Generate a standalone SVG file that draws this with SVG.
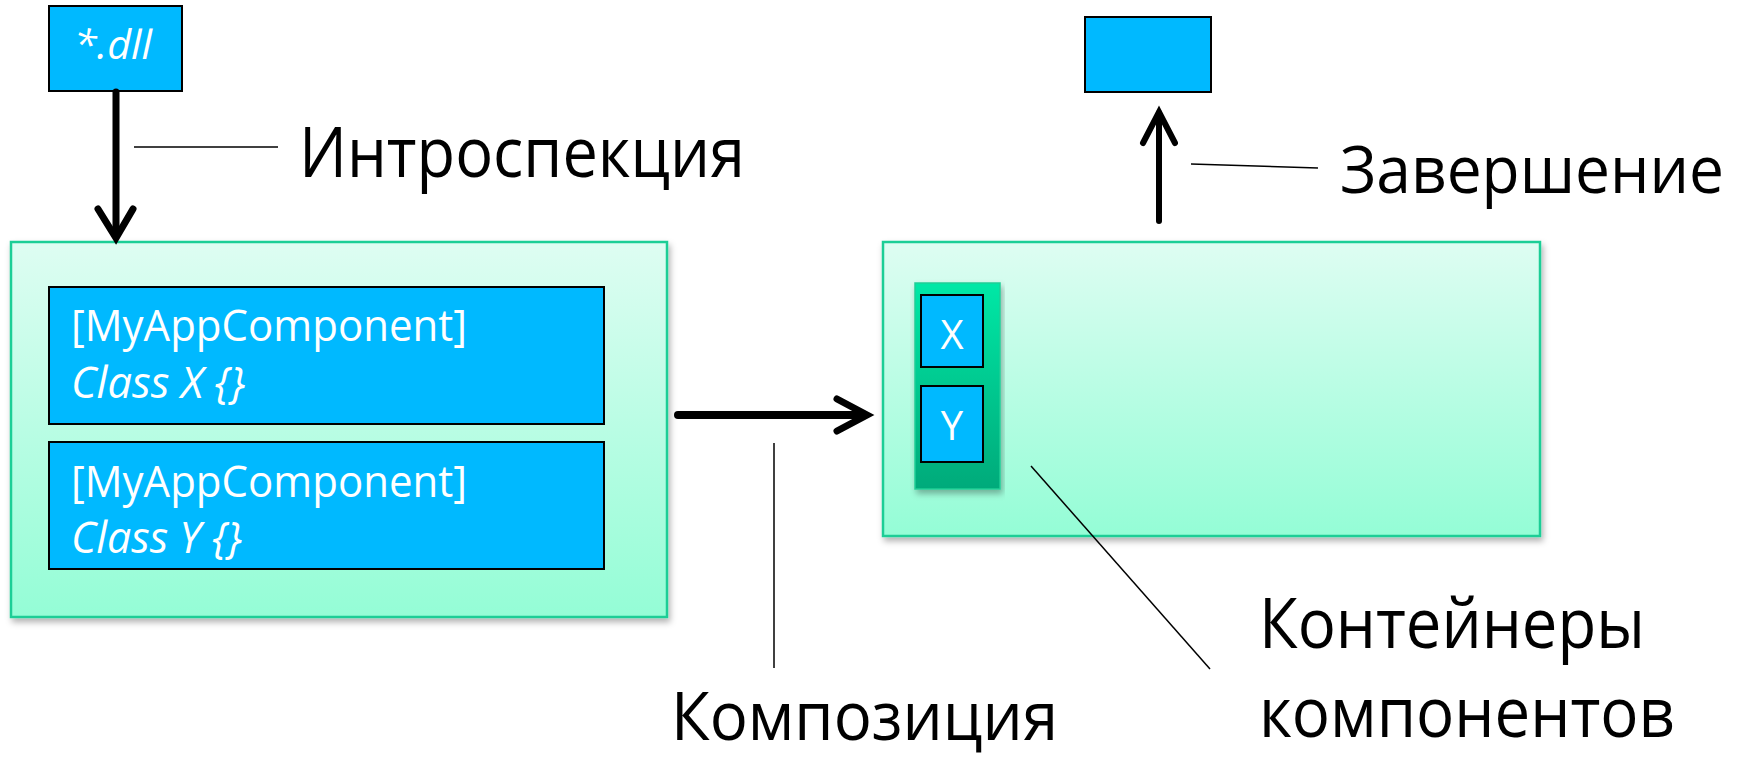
<svg xmlns="http://www.w3.org/2000/svg" width="1748" height="758" viewBox="0 0 1748 758">
<defs>
<linearGradient id="gLight" x1="0" y1="0" x2="0" y2="1">
<stop offset="0" stop-color="#DEFDF2"/>
<stop offset="1" stop-color="#94FDD6"/>
</linearGradient>
<linearGradient id="gDark" x1="0" y1="0" x2="0" y2="1">
<stop offset="0" stop-color="#00E8A6"/>
<stop offset="1" stop-color="#00AA7A"/>
</linearGradient>
<filter id="sh" x="-5%" y="-5%" width="110%" height="115%">
<feDropShadow dx="2" dy="4" stdDeviation="3" flood-color="#000" flood-opacity="0.3"/>
</filter>
</defs>
<style>
.cont{fill:url(#gLight);stroke:#1FCE96;stroke-width:2.5}
.blue{fill:#00B9FF;stroke:#000;stroke-width:2}
.wt{fill:#fff;font-family:"Open Sans","Noto Sans",sans-serif}
.lbl{fill:#000;font-family:"Open Sans","Noto Sans",sans-serif;font-size:70px}
.thin{stroke:#000;stroke-width:1.5;fill:none}
.arr{stroke:#000;fill:none;stroke-linecap:round;stroke-linejoin:miter}
</style>
<rect width="1748" height="758" fill="#fff"/>

<g id="dll">
<rect class="blue" x="49" y="6" width="133" height="85"/>
<text class="wt" x="74" y="59" font-size="40" font-style="italic" textLength="78" lengthAdjust="spacingAndGlyphs">*.dll</text>
</g>

<g id="introspection-container">
<rect class="cont" x="11" y="242" width="656" height="375" filter="url(#sh)"/>
</g>
<g id="classX">
<rect class="blue" x="49" y="287" width="555" height="137"/>
<text class="wt" x="71" y="341" font-size="43" textLength="396" lengthAdjust="spacingAndGlyphs">[MyAppComponent]</text>
<text class="wt" x="71" y="398" font-size="43" font-style="italic" textLength="174" lengthAdjust="spacingAndGlyphs">Class X {}</text>
</g>
<g id="classY">
<rect class="blue" x="49" y="442" width="555" height="127"/>
<text class="wt" x="71" y="497" font-size="43" textLength="396" lengthAdjust="spacingAndGlyphs">[MyAppComponent]</text>
<text class="wt" x="71" y="553" font-size="43" font-style="italic" textLength="171" lengthAdjust="spacingAndGlyphs">Class Y {}</text>
</g>

<g id="composition-container">
<rect class="cont" x="883" y="242" width="657" height="294" filter="url(#sh)"/>
</g>
<g id="component-container">
<rect x="915" y="283" width="85" height="206" fill="url(#gDark)" stroke="#1FCE96" stroke-width="1.5" filter="url(#sh)"/>
</g>
<g id="partX">
<rect class="blue" x="921" y="295" width="62" height="72"/>
<text class="wt" x="952" y="349" font-size="40" text-anchor="middle">X</text>
</g>
<g id="partY">
<rect class="blue" x="921" y="386" width="62" height="76"/>
<text class="wt" x="952" y="440" font-size="40" text-anchor="middle">Y</text>
</g>

<g id="result">
<rect class="blue" x="1085" y="17" width="126" height="75"/>
</g>

<g id="connectors">
<path class="arr" stroke-width="7" d="M116 92 V236"/>
<path class="arr" stroke-width="7" d="M98 209 L116 238 L133 209"/>
<path class="arr" stroke-width="8" d="M678 415 H864"/>
<path class="arr" stroke-width="7" d="M837 399 L867 415 L837 431"/>
<path class="arr" stroke-width="6" d="M1159 221 V113"/>
<path class="arr" stroke-width="6" d="M1143 143 L1159 112 L1175 143"/>
</g>

<g id="label-lines">
<path class="thin" d="M134 147 H278"/>
<path class="thin" d="M774 443 V668"/>
<path class="thin" d="M1031 466 L1210 669"/>
<path class="thin" d="M1191 164 L1318 168"/>
</g>

<g id="labels">
<text class="lbl" x="299" y="177" textLength="446" lengthAdjust="spacingAndGlyphs">Интроспекция</text>
<text class="lbl" x="1340" y="193" font-size="66" style="font-size:66px" textLength="384" lengthAdjust="spacingAndGlyphs">Завершение</text>
<text class="lbl" x="671" y="740" font-size="68" style="font-size:68px" textLength="387" lengthAdjust="spacingAndGlyphs">Композиция</text>
<text class="lbl" x="1259" y="648" textLength="386" lengthAdjust="spacingAndGlyphs">Контейнеры</text>
<text class="lbl" x="1259" y="737" textLength="416" lengthAdjust="spacingAndGlyphs">компонентов</text>
</g>
</svg>
